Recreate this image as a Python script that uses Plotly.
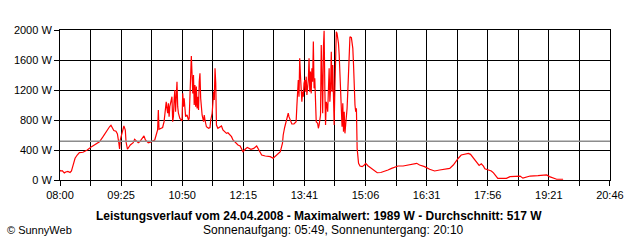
import plotly.graph_objects as go
import pandas as pd

day = "2008-04-24"
times = [
    "08:00", "08:01", "08:03", "08:06", "08:08", "08:11", "08:14", "08:16", "08:17", "08:19",
    "08:21", "08:24", "08:27", "08:32", "08:38", "08:44", "08:51", "08:55", "09:00", "09:04",
    "09:09", "09:11", "09:13", "09:15", "09:18", "09:20", "09:22", "09:23", "09:24", "09:27",
    "09:29", "09:31", "09:32", "09:34", "09:36", "09:38", "09:42", "09:44", "09:46", "09:49",
    "09:51", "09:54", "09:57", "09:59", "10:03", "10:06", "10:10", "10:12", "10:14", "10:16",
    "10:17", "10:18", "10:21", "10:23", "10:25", "10:26", "10:28", "10:29", "10:30", "10:31",
    "10:32", "10:33", "10:35", "10:36", "10:37", "10:38", "10:39", "10:40", "10:41", "10:42",
    "10:43", "10:44", "10:45", "10:47", "10:50", "10:51", "10:52", "10:53", "10:54", "10:55",
    "10:57", "10:59", "11:00", "11:01", "11:02", "11:03", "11:04", "11:05", "11:06", "11:07",
    "11:08", "11:09", "11:10", "11:11", "11:12", "11:13", "11:14", "11:15", "11:16", "11:17",
    "11:18", "11:20", "11:21", "11:22", "11:24", "11:27", "11:29", "11:30", "11:32", "11:33",
    "11:34", "11:35", "11:36", "11:37", "11:38", "11:40", "11:43", "11:45", "11:47", "11:50",
    "11:52", "11:54", "11:57", "11:59", "12:01", "12:05", "12:08", "12:11", "12:13", "12:15",
    "12:18", "12:21", "12:26", "12:30", "12:34", "12:38", "12:41", "12:46", "12:50", "12:53",
    "12:57", "13:00", "13:04", "13:07", "13:10", "13:11", "13:13", "13:16", "13:18", "13:19",
    "13:21", "13:23", "13:26", "13:29", "13:30", "13:32", "13:33", "13:34", "13:35", "13:36",
    "13:37", "13:38", "13:39", "13:40", "13:41", "13:42", "13:43", "13:44", "13:45", "13:46",
    "13:47", "13:48", "13:49", "13:50", "13:51", "13:52", "13:53", "13:54", "13:55", "13:56",
    "13:57", "13:59", "14:00", "14:01", "14:03", "14:04", "14:05", "14:06", "14:07", "14:08",
    "14:09", "14:10", "14:11", "14:12", "14:13", "14:14", "14:15", "14:16", "14:17", "14:18",
    "14:19", "14:20", "14:21", "14:22", "14:23", "14:24", "14:25", "14:26", "14:27", "14:28",
    "14:29", "14:30", "14:31", "14:32", "14:33", "14:34", "14:35", "14:36", "14:37", "14:38",
    "14:39", "14:40", "14:41", "14:42", "14:43", "14:44", "14:46", "14:47", "14:48", "14:49",
    "14:50", "14:51", "14:52", "14:53", "14:54", "14:55", "14:56", "14:58", "15:01", "15:04",
    "15:06", "15:09", "15:14", "15:19", "15:22", "15:27", "15:33", "15:37", "15:42", "15:47",
    "15:51", "15:58", "16:05", "16:12", "16:17", "16:21", "16:28", "16:35", "16:42", "16:49",
    "16:56", "17:03", "17:08", "17:10", "17:15", "17:19", "17:24", "17:29", "17:32", "17:36",
    "17:39", "17:43", "17:44", "17:47", "17:50", "17:52", "17:56", "18:01", "18:04", "18:08",
    "18:10", "18:17", "18:22", "18:27", "18:36", "18:41", "18:45", "18:50", "18:55", "19:06",
    "19:18", "19:22", "19:27", "19:32", "19:41",
]
watts = [
    130, 120, 125, 95, 107, 115, 100, 120, 155, 245,
    290, 333, 365, 370, 400, 445, 490, 510, 578, 645,
    710, 730, 700, 660, 650, 615, 490, 415, 535, 645,
    720, 665, 510, 410, 435, 467, 497, 542, 525, 497,
    510, 542, 587, 533, 497, 505, 520, 533, 600, 667,
    933, 675, 690, 700, 778, 910, 1043, 955, 890, 1022,
    845, 978, 1043, 1110, 778, 845, 1067, 1200, 910, 1290,
    1310, 978, 890, 822, 790, 1155, 978, 1090, 955, 845,
    867, 800, 822, 1245, 1378, 1653, 1290, 1155, 1400, 1000,
    1267, 978, 1245, 955, 1110, 933, 1310, 1422, 1090, 910,
    867, 778, 867, 800, 710, 690, 700, 800, 890, 1022,
    1178, 1067, 1490, 1290, 733, 690, 710, 720, 667, 645,
    622, 630, 590, 578, 533, 490, 467, 455, 422, 378,
    410, 435, 410, 422, 453, 390, 333, 320, 320, 311,
    290, 320, 355, 378, 490, 600, 700, 800, 890, 845,
    800, 747, 747, 778, 978, 1333, 1110, 1622, 1400, 1133,
    1043, 1178, 1110, 1290, 1333, 1178, 1378, 1133, 1245, 1333,
    1622, 1178, 1445, 1155, 1490, 1310, 1845, 1222, 1355, 1022,
    778, 755, 690, 733, 867, 1800, 1178, 890, 1755, 1989,
    1222, 733, 1043, 1000, 910, 1133, 1490, 1043, 1222, 1710,
    1178, 1533, 955, 733, 1222, 1822, 1978, 1955, 1890, 1822,
    1667, 1467, 1245, 910, 710, 1022, 645, 910, 622, 733,
    822, 955, 1178, 1445, 1890, 1910, 1897, 1845, 1755, 1533,
    1178, 1000, 910, 955, 422, 290, 222, 187, 178, 200,
    222, 190, 155, 120, 97, 100, 115, 133, 155, 178,
    187, 187, 200, 213, 222, 200, 178, 143, 120, 133,
    143, 155, 200, 230, 290, 333, 347, 355, 342, 290,
    245, 200, 195, 215, 185, 150, 133, 120, 95, 45,
    22, 22, 22, 45, 53, 53, 25, 35, 53, 58,
    67, 45, 25, 10, 10,
]
average_w = 517
range_start = "08:00:00"
range_end = "20:46:20"
x_labels = ["08:00", "09:25", "10:50", "12:15", "13:41", "15:06", "16:31", "17:56", "19:21", "20:46"]
y_ticks = [0, 400, 800, 1200, 1600, 2000]
y_labels = ["0 W", "400 W", "800 W", "1200 W", "1600 W", "2000 W"]
title_text = "Leistungsverlauf vom 24.04.2008 - Maximalwert: 1989 W - Durchschnitt: 517 W"
sub_text = "Sonnenaufgang: 05:49, Sonnenuntergang: 20:10"
copyright_text = "© SunnyWeb"

x = pd.to_datetime([f"{day} {t}" for t in times])
t0 = pd.Timestamp(f"{day} {range_start}")
t1 = pd.Timestamp(f"{day} {range_end}")
n_grid = 2 * (len(x_labels) - 1)
step = (t1 - t0) / n_grid
tickvals = [t0 + step * k for k in range(n_grid + 1)]
ticktext = []
for k in range(n_grid + 1):
    ticktext.append(x_labels[k // 2] if k % 2 == 0 else "")

FONT = "Liberation Sans, Arial, sans-serif"

fig = go.Figure()
fig.add_trace(go.Scatter(x=x, y=watts, mode="lines",
                         line=dict(color="#ff0000", width=1.2), hoverinfo="skip"))
fig.add_shape(type="line", xref="paper", x0=0, x1=1, yref="y", y0=average_w, y1=average_w,
              line=dict(color="#8c8c8c", width=1.5), layer="above")

fig.update_layout(
    width=640, height=240,
    margin=dict(l=60, r=30, t=30, b=60),
    paper_bgcolor="white", plot_bgcolor="white",
    showlegend=False,
    font=dict(family=FONT, size=11, color="black"),
    xaxis=dict(
        type="date", range=[t0, t1],
        tickmode="array", tickvals=tickvals, ticktext=ticktext,
        showgrid=True, gridcolor="black", gridwidth=1,
        ticks="outside", ticklen=5, tickcolor="black", tickwidth=1,
        showline=True, linecolor="black", linewidth=1, mirror=True,
        zeroline=False, tickfont=dict(family=FONT, size=11),
    ),
    yaxis=dict(
        range=[0, 2000],
        tickmode="array", tickvals=y_ticks, ticktext=y_labels,
        showgrid=True, gridcolor="black", gridwidth=1,
        ticks="outside", ticklen=5, tickcolor="black", tickwidth=1,
        showline=True, linecolor="black", linewidth=1, mirror=True,
        zeroline=False, tickfont=dict(family=FONT, size=11),
    ),
    annotations=[
        dict(text=f"<b>{title_text}</b>", xref="paper", yref="paper",
             x=(319 - 60) / 550, y=(180 - 216) / 150, xanchor="center", yanchor="middle",
             showarrow=False, font=dict(family=FONT, size=12, color="black")),
        dict(text=sub_text, xref="paper", yref="paper",
             x=(333 - 60) / 550, y=(180 - 230) / 150, xanchor="center", yanchor="middle",
             showarrow=False, font=dict(family=FONT, size=12, color="black")),
        dict(text=copyright_text, xref="paper", yref="paper",
             x=(5 - 60) / 550, y=(180 - 230) / 150, xanchor="left", yanchor="middle",
             showarrow=False, font=dict(family=FONT, size=11, color="black")),
    ],
)

fig.write_html("out.html")
